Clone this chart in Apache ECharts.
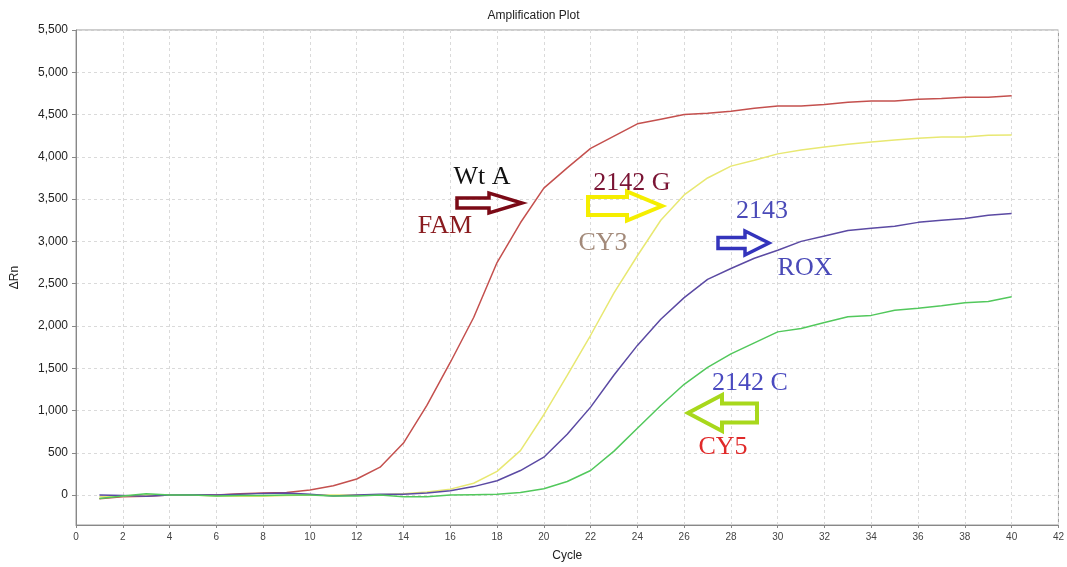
<!DOCTYPE html>
<html><head><meta charset="utf-8">
<script src="https://cdn.jsdelivr.net/npm/echarts@6/dist/echarts.min.js"></script>
<style>html,body{margin:0;padding:0;background:#fff}#c{width:1067px;height:567px}</style>
</head><body><div id="c"></div>
<script>
const cycles = [1,2,3,4,5,6,7,8,9,10,11,12,13,14,15,16,17,18,19,20,21,22,23,24,25,26,27,28,29,30,31,32,33,34,35,36,37,38,39,40];
const famWtA = [-45,-20,-15,0,5,0,15,25,30,60,110,190,330,615,1060,1568,2100,2750,3220,3630,3870,4100,4245,4390,4445,4500,4515,4540,4575,4600,4600,4620,4645,4660,4660,4680,4690,4705,4705,4722];
const cy3_2142G = [-20,-10,0,0,0,-10,-15,-15,-5,0,0,0,5,15,35,70,140,280,525,950,1415,1890,2390,2830,3250,3550,3750,3890,3960,4035,4080,4115,4150,4175,4200,4220,4235,4235,4255,4258];
const rox_2143 = [0,-5,-15,0,5,0,10,20,25,10,-10,0,10,10,25,50,100,170,290,448,720,1040,1420,1770,2080,2335,2550,2680,2800,2895,3000,3065,3130,3155,3180,3225,3250,3270,3310,3330];
const cy5_2142C = [-40,-10,15,0,0,-10,-5,-5,0,0,-10,-10,0,-20,-20,0,5,10,30,75,160,290,520,790,1060,1310,1510,1670,1800,1930,1970,2040,2110,2125,2185,2210,2240,2275,2290,2345];
const yTicks = [0,500,1000,1500,2000,2500,3000,3500,4000,4500,5000,5500];

const pair = arr => cycles.map((c,i)=>[c,arr[i]]);
const chart = echarts.init(document.getElementById('c'));
const mkSeries = (name, data, color) => ({
  name, type:'line', data: pair(data), showSymbol:false, symbol:'none',
  lineStyle:{color, width:1.5}, itemStyle:{color}, animation:false
});
function arrow(x0, xm, x1, yc, h1, h2, color, w){
  const pts = [[x0,yc-h1/2],[xm,yc-h1/2],[xm,yc-h2/2],[x1,yc],[xm,yc+h2/2],[xm,yc+h1/2],[x0,yc+h1/2]];
  return {type:'polygon', shape:{points:pts}, style:{fill:'rgba(255,255,255,0)', stroke:color, lineWidth:w, lineJoin:'miter'}, z:10};
}
function label(text, x, y, color){
  return {type:'text', x, y, style:{text, fill:color, font:'26px "Liberation Serif", "Times New Roman", serif', textAlign:'center', textVerticalAlign:'middle'}, z:11};
}
chart.setOption({
  animation:false,
  backgroundColor:'#fff',
  title:{text:'Amplification Plot', left:'center', top:5, textStyle:{fontFamily:'"Liberation Sans", Arial, sans-serif', fontSize:12, fontWeight:'normal', color:'#222'}},
  grid:{left:76, right:6, top:30, bottom:39, show:true, borderColor:'#9a9a9a', borderWidth:1, backgroundColor:'transparent'},
  xAxis:{type:'value', min:0, max:42, interval:2, name:'Cycle', nameLocation:'middle', nameGap:25,
    nameTextStyle:{fontFamily:'"Liberation Sans", Arial, sans-serif', fontSize:12, color:'#222'},
    axisLine:{onZero:false, lineStyle:{color:'#888'}}, axisTick:{show:true, length:3, lineStyle:{color:'#888'}},
    axisLabel:{fontFamily:'"Liberation Sans", Arial, sans-serif', fontSize:10, color:'#444', margin:7},
    splitLine:{show:true, lineStyle:{color:'#dadada', type:[3,3]}}},
  yAxis:{type:'value', min:-354, max:5500, name:'ΔRn', nameLocation:'middle', nameGap:55, nameRotate:90,
    nameTextStyle:{fontFamily:'"Liberation Sans", Arial, sans-serif', fontSize:12, color:'#222'},
    axisLine:{show:true, onZero:false, lineStyle:{color:'#888'}}, axisTick:{show:true, length:4, customValues:yTicks, lineStyle:{color:'#888'}},
    axisLabel:{customValues:yTicks, fontFamily:'"Liberation Sans", Arial, sans-serif', fontSize:12, color:'#222', margin:8,
      formatter:v=>Number(v).toLocaleString('en-US')},
    splitLine:{show:true, lineStyle:{color:'#dadada', type:[3,3]}}},
  series:[
    mkSeries('FAM Wt A', famWtA, '#c4504e'),
    mkSeries('CY3 2142 G', cy3_2142G, '#e8e872'),
    mkSeries('ROX 2143', rox_2143, '#5b4aa3'),
    mkSeries('CY5 2142 C', cy5_2142C, '#52c85c')
  ],
  graphic:[
    arrow(457, 489, 522, 203, 10, 20, '#7b0a16', 3.5),
    label('Wt A', 482, 177, '#111'),
    label('FAM', 445, 226, '#8a1c20'),
    arrow(588, 627, 662, 206, 18, 29, '#f5ee00', 4),
    label('2142 G', 632, 183, '#7a1434'),
    label('CY3', 603, 243, '#a38a7a'),
    arrow(718, 745, 769, 243, 11, 24, '#3434bc', 3.5),
    label('2143', 762, 211, '#4a4ab8'),
    label('ROX', 805, 268, '#4a4ab8'),
    arrow(757, 722, 688, 413, 19, 36, '#a8d81c', 4),
    label('2142 C', 750, 383, '#4a4ac0'),
    label('CY5', 723, 447, '#e02a2a')
  ]
});
</script></body></html>
